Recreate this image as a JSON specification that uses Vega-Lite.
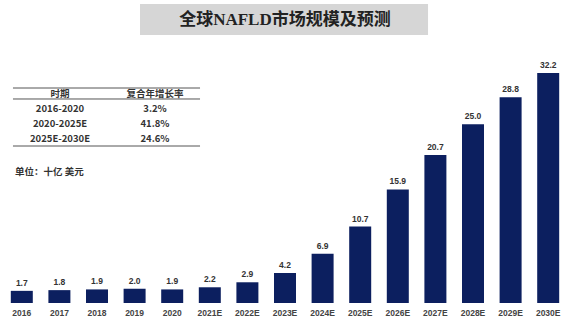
{
  "$schema": "https://vega.github.io/schema/vega-lite/v6.json",
  "width": 564,
  "height": 303,
  "autosize": {"type": "none"},
  "padding": {"left": 3, "top": 0, "right": 3, "bottom": 21},
  "background": "#ffffff",
  "config": {"view": {"stroke": null}},
  "datasets": {
    "market": [
      {"year": "2016", "value": 1.7},
      {"year": "2017", "value": 1.8},
      {"year": "2018", "value": 1.9},
      {"year": "2019", "value": 2.0},
      {"year": "2020", "value": 1.9},
      {"year": "2021E", "value": 2.2},
      {"year": "2022E", "value": 2.9},
      {"year": "2023E", "value": 4.2},
      {"year": "2024E", "value": 6.9},
      {"year": "2025E", "value": 10.7},
      {"year": "2026E", "value": 15.9},
      {"year": "2027E", "value": 20.7},
      {"year": "2028E", "value": 25.0},
      {"year": "2029E", "value": 28.8},
      {"year": "2030E", "value": 32.2}
    ],
    "table": [
      {"row": 0, "period": "时期", "cagr": "复合年增长率"},
      {"row": 1, "period": "2016-2020", "cagr": "3.2%"},
      {"row": 2, "period": "2020-2025E", "cagr": "41.8%"},
      {"row": 3, "period": "2025E-2030E", "cagr": "24.6%"}
    ],
    "lines": [
      {"c1": 0.505, "c2": 2.474, "r": -0.4},
      {"c1": 0.505, "c2": 2.474, "r": 0.333},
      {"c1": 0.505, "c2": 2.474, "r": 3.467}
    ],
    "titlebox": [
      {"c1": 1.842, "c2": 4.874, "r1": -6, "r2": -3.933, "cm": 3.368, "rm": -4.933, "text": "全球NAFLD市场规模及预测"}
    ],
    "unit": [
      {"c": 0.526, "r": 5.2, "text": "单位：十亿 美元"}
    ]
  },
  "layer": [
    {
      "data": {"name": "market"},
      "encoding": {
        "x": {
          "field": "year", "type": "nominal", "sort": null,
          "scale": {"paddingInner": 0.415, "paddingOuter": 0.2075},
          "axis": {
            "title": null, "domain": false, "ticks": false, "labelAngle": 0,
            "labelFontSize": 8.5, "labelFontWeight": "bold", "labelColor": "#444444",
            "labelFont": "Liberation Sans", "labelPadding": 5
          }
        },
        "y": {
          "field": "value", "type": "quantitative",
          "scale": {"domain": [0, 42.4], "nice": false},
          "axis": null
        }
      },
      "layer": [
        {"mark": {"type": "bar", "color": "#0c1f5f"}},
        {
          "mark": {"type": "text", "dy": -8, "fontSize": 8.5, "fontWeight": "bold", "color": "#333333", "font": "Liberation Sans"},
          "encoding": {"text": {"field": "value", "type": "quantitative", "format": ".1f"}}
        }
      ]
    },
    {
      "layer": [
        {
          "data": {"name": "titlebox"},
          "mark": {"type": "rect", "color": "#d6d6d6"},
          "encoding": {
            "x": {"field": "c1", "type": "quantitative", "scale": {"domain": [1, 2], "range": [57, 152], "nice": false, "zero": false}, "axis": null},
            "x2": {"field": "c2"},
            "y": {"field": "r1", "type": "quantitative", "scale": {"domain": [0, 1], "range": [94, 109], "nice": false, "zero": false}, "axis": null},
            "y2": {"field": "r2"}
          }
        },
        {
          "data": {"name": "titlebox"},
          "mark": {"type": "text", "fontSize": 17, "font": "Liberation Serif, Noto Sans CJK SC", "fontWeight": "bold", "color": "#222222", "baseline": "middle"},
          "encoding": {
            "x": {"field": "cm", "type": "quantitative"},
            "y": {"field": "rm", "type": "quantitative"},
            "text": {"field": "text"}
          }
        },
        {
          "data": {"name": "lines"},
          "mark": {"type": "rule", "color": "#555555", "strokeWidth": 1},
          "encoding": {
            "x": {"field": "c1", "type": "quantitative"},
            "x2": {"field": "c2"},
            "y": {"field": "r", "type": "quantitative"}
          }
        },
        {
          "data": {"name": "table"},
          "mark": {"type": "text", "fontSize": 9.5, "fontWeight": "bold", "color": "#333333", "font": "Noto Sans CJK SC", "baseline": "middle"},
          "encoding": {
            "x": {"datum": 1, "type": "quantitative"},
            "y": {"field": "row", "type": "quantitative"},
            "text": {"field": "period"}
          }
        },
        {
          "data": {"name": "table"},
          "mark": {"type": "text", "fontSize": 9.5, "fontWeight": "bold", "color": "#333333", "font": "Noto Sans CJK SC", "baseline": "middle"},
          "encoding": {
            "x": {"datum": 2, "type": "quantitative"},
            "y": {"field": "row", "type": "quantitative"},
            "text": {"field": "cagr"}
          }
        },
        {
          "data": {"name": "unit"},
          "mark": {"type": "text", "fontSize": 9.5, "fontWeight": "bold", "color": "#333333", "font": "Noto Sans CJK SC", "align": "left", "baseline": "middle"},
          "encoding": {
            "x": {"field": "c", "type": "quantitative"},
            "y": {"field": "r", "type": "quantitative"},
            "text": {"field": "text"}
          }
        }
      ]
    }
  ],
  "resolve": {"scale": {"x": "independent", "y": "independent"}, "axis": {"x": "independent", "y": "independent"}}
}
